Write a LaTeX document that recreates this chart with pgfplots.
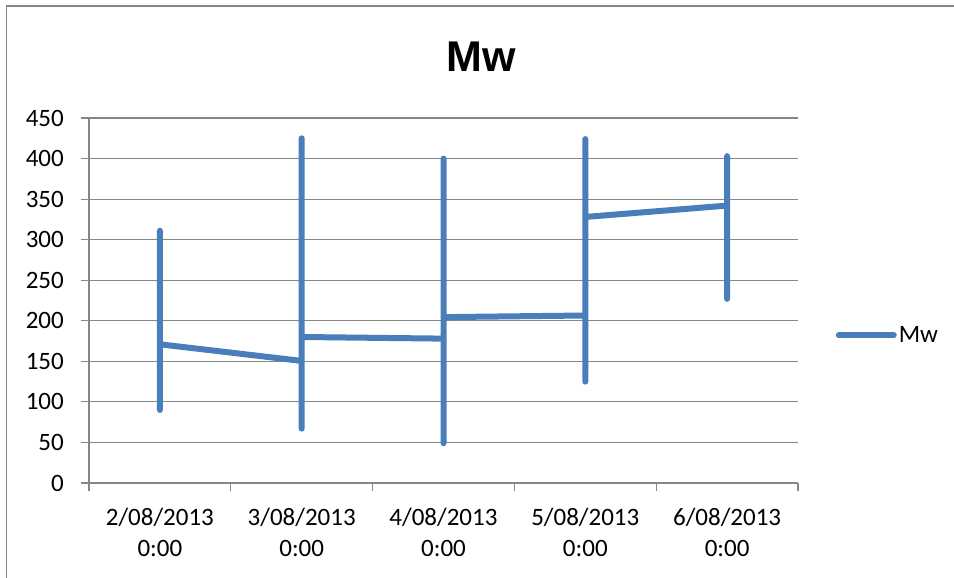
\documentclass[border=0pt]{standalone}
\usepackage{pgfplots}
\pgfplotsset{compat=1.18}
\usepackage{fontspec}
\setmainfont{Carlito}
\newfontfamily\titlefont{Liberation Sans}
\definecolor{mwblue}{RGB}{74,126,187}
\definecolor{gridgray}{RGB}{134,134,134}
\definecolor{framegray}{RGB}{134,134,134}

\begin{document}
\begin{tikzpicture}
\useasboundingbox (0,0) rectangle (954pt,578pt);
\fill[white] (0,0) rectangle (954pt,578pt);
% chart border (left and top visible)
\draw[framegray, line width=1.3pt] (6.5pt,0) -- (6.5pt,572pt) -- (954pt,572pt);

\begin{axis}[
  at={(89pt,95pt)}, anchor=south west,
  scale only axis, width=709pt, height=365pt,
  xmin=-0.5, xmax=4.5, ymin=0, ymax=450,
  axis x line=bottom, axis y line=left,
  axis line style={-, gridgray, line width=1.1pt},
  ytick={0,50,...,450},
  xtick={-0.5,0.5,1.5,2.5,3.5,4.5},
  xticklabels={},
  extra x ticks={0,1,2,3,4},
  extra x tick labels={{2/08/2013\\0:00},{3/08/2013\\0:00},{4/08/2013\\0:00},{5/08/2013\\0:00},{6/08/2013\\0:00}},
  extra x tick style={major tick length=0pt},
  tick align=outside,
  major tick length=8pt,
  tick style={gridgray, line width=1.1pt},
  ymajorgrids,
  grid style={gridgray, line width=1.1pt},
  /pgf/number format/assume math mode=true,
  tick label style={font=\fontsize{25}{31}\selectfont},
  xticklabel style={align=center, inner sep=0pt, yshift=-25pt},
  yticklabel style={inner sep=0pt, xshift=-17pt},
  legend style={at={(axis description cs:1.053,0.405)}, anchor=west,
    draw=none, fill=none, inner sep=0pt, column sep=0pt,
    font=\fontsize{25}{30}\selectfont,
    nodes={inner sep=0pt}},
  legend image code/.code={\draw[#1, line cap=round] (0pt,0pt) -- (55pt,0pt);},
  legend cell align=left,
  clip=false,
]
\addplot[mwblue, line width=6pt, line cap=round, line join=round] coordinates {
  (0,200) (0,311) (0,130) (0,90) (0,230) (0,171)
  (1,150.5) (1,67) (1,425) (1,370) (1,120) (1,180)
  (2,178) (2,49) (2,400) (2,380) (2,204.5)
  (3,206.5) (3,125) (3,424) (3,328)
  (4,342) (4,227) (4,403) (4,300)
};
\addlegendentry{\hspace{2pt}Mw}
\end{axis}

\node[anchor=base, font=\titlefont\bfseries\fontsize{43}{50}\selectfont] at (481pt,506.3pt) {Mw};
\end{tikzpicture}
\end{document}
